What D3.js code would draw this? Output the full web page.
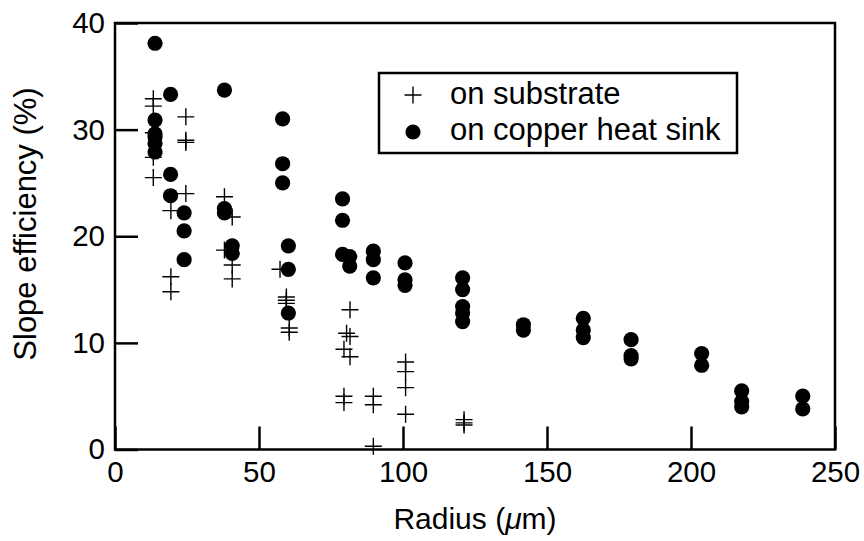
<!DOCTYPE html>
<html>
<head>
<meta charset="utf-8">
<script src="https://d3js.org/d3.v7.min.js"></script>
<style>
  body { margin: 0; background: #fff; }
  text { font-family: "Liberation Sans", Arial, sans-serif; fill: #000; }
</style>
</head>
<body>
<div id="chart"></div>
<script>
    // Radius (um) and slope efficiency (%)
    var substrateX = [13.3, 13.3, 13.3, 13.3, 13.3,
                      19.4, 19.4, 19.4,
                      24.6, 24.6, 24.6, 24.6,
                      38.0, 38.0,
                      40.7, 40.7, 40.7,
                      57.3, 59.5, 59.5, 59.5, 60.5, 60.5,
                      79.5, 79.5, 79.5, 80.4, 81.6, 81.6, 81.6,
                      89.7, 89.7, 89.7,
                      100.9, 100.9, 100.9, 100.9,
                      121.2, 121.2, 121.2];
    var substrateY = [32.9, 32.2, 29.7, 27.4, 25.5,
                      22.4, 16.2, 14.8,
                      31.2, 29.0, 28.8, 24.0,
                      23.7, 18.7,
                      21.8, 17.3, 16.0,
                      16.9, 14.3, 14.0, 13.7, 11.4, 11.0,
                      9.4, 5.0, 4.4, 10.9, 13.1, 10.6, 8.7,
                      5.0, 4.2, 0.3,
                      8.2, 7.3, 5.8, 3.3,
                      2.8, 2.5, 2.3];

    var copperX = [13.9, 13.9, 13.9, 13.9, 13.9, 13.9,
                   19.3, 19.3, 19.3,
                   24.0, 24.0, 24.0,
                   38.0, 38.0, 38.0,
                   40.7, 40.7,
                   58.2, 58.2, 58.2,
                   60.2, 60.2, 60.2,
                   79.0, 79.0, 79.0,
                   81.5, 81.5,
                   89.7, 89.7, 89.7,
                   100.7, 100.7, 100.7,
                   120.7, 120.7, 120.7, 120.7, 120.7,
                   141.8, 141.8,
                   162.6, 162.6, 162.6,
                   179.2, 179.2, 179.2,
                   203.7, 203.7,
                   217.6, 217.6, 217.6,
                   238.8, 238.8];
    var copperY = [38.1, 30.9, 29.6, 29.3, 28.7, 27.9,
                   33.3, 25.8, 23.8,
                   22.2, 20.5, 17.8,
                   33.7, 22.6, 22.2,
                   19.1, 18.4,
                   31.0, 26.8, 25.0,
                   19.1, 16.9, 12.8,
                   23.5, 21.5, 18.3,
                   18.1, 17.2,
                   18.6, 17.8, 16.1,
                   17.5, 15.9, 15.4,
                   16.1, 15.0, 13.4, 12.8, 12.0,
                   11.7, 11.2,
                   12.3, 11.2, 10.5,
                   10.3, 8.8, 8.5,
                   9.0, 7.9,
                   5.5, 4.5, 4.0,
                   5.0, 3.8];

    var xTicks = [0, 50, 100, 150, 200, 250];
    var yTicks = [0, 10, 20, 30, 40];
    var legendLabels = ["on substrate", "on copper heat sink"];

    var width = 864, height = 541;
    var plotL = 115, plotR = 835, plotT = 23, plotB = 449.5;

    var svg = d3.select("#chart").append("svg")
        .attr("width", width)
        .attr("height", height);

    var x = d3.scaleLinear().domain([0, 250]).range([plotL, plotR]);
    var y = d3.scaleLinear().domain([0, 40]).range([plotB, plotT]);

    // inward ticks, labels outside
    var xAxis = svg.append("g")
        .attr("transform", "translate(0," + plotB + ")")
        .call(d3.axisBottom(x).tickValues(xTicks).tickSize(-23).tickPadding(12));
    var yAxis = svg.append("g")
        .attr("transform", "translate(" + plotL + ",0)")
        .call(d3.axisLeft(y).tickValues(yTicks).tickSize(-23).tickPadding(10));

    [xAxis, yAxis].forEach(function(g) {
        g.select(".domain").remove();
        g.selectAll(".tick line").attr("stroke", "#000").attr("stroke-width", 2.5);
        g.selectAll(".tick text")
            .style("font-family", "'Liberation Sans', Arial, sans-serif")
            .style("font-size", "29.5px")
            .attr("fill", "#000");
    });

    // frame
    svg.append("rect")
        .attr("x", plotL).attr("y", plotT)
        .attr("width", plotR - plotL).attr("height", plotB - plotT)
        .attr("fill", "none").attr("stroke", "#000").attr("stroke-width", 2.5);

    function plusPath(s) {
        return "M" + (-s) + ",0H" + s + "M0," + (-s) + "V" + s;
    }

    var substrate = substrateX.map(function(d, i) { return [d, substrateY[i]]; });
    var copper = copperX.map(function(d, i) { return [d, copperY[i]]; });

    svg.append("g").selectAll("path")
        .data(substrate)
        .enter().append("path")
        .attr("d", plusPath(8.5))
        .attr("transform", function(d) { return "translate(" + x(d[0]) + "," + y(d[1]) + ")"; })
        .attr("stroke", "#000").attr("stroke-width", 1.4).attr("fill", "none");

    svg.append("g").selectAll("circle")
        .data(copper)
        .enter().append("circle")
        .attr("cx", function(d) { return x(d[0]); })
        .attr("cy", function(d) { return y(d[1]); })
        .attr("r", 7.6)
        .attr("fill", "#000");

    // legend
    var lg = svg.append("g");
    lg.append("rect")
        .attr("x", 379).attr("y", 73).attr("width", 358).attr("height", 80)
        .attr("fill", "#fff").attr("stroke", "#000").attr("stroke-width", 2.5);
    lg.append("path")
        .attr("d", plusPath(8.5))
        .attr("transform", "translate(413,95)")
        .attr("stroke", "#000").attr("stroke-width", 1.4);
    lg.append("circle").attr("cx", 413).attr("cy", 132).attr("r", 7.6).attr("fill", "#000");
    lg.selectAll("text")
        .data(legendLabels)
        .enter().append("text")
        .attr("x", 450)
        .attr("y", function(d, i) { return 104 + i * 36; })
        .style("font-size", "31px")
        .text(function(d) { return d; });

    // axis titles
    var xt = svg.append("text")
        .attr("x", 475)
        .attr("y", 529)
        .attr("text-anchor", "middle")
        .style("font-size", "30px");
    xt.append("tspan").text("Radius (");
    xt.append("tspan").style("font-style", "italic").text("\u03bc");
    xt.append("tspan").text("m)");

    svg.append("text")
        .attr("transform", "translate(36,224) rotate(-90)")
        .attr("text-anchor", "middle")
        .style("font-size", "31px")
        .text("Slope efficiency (%)");
</script>
</body>
</html>
